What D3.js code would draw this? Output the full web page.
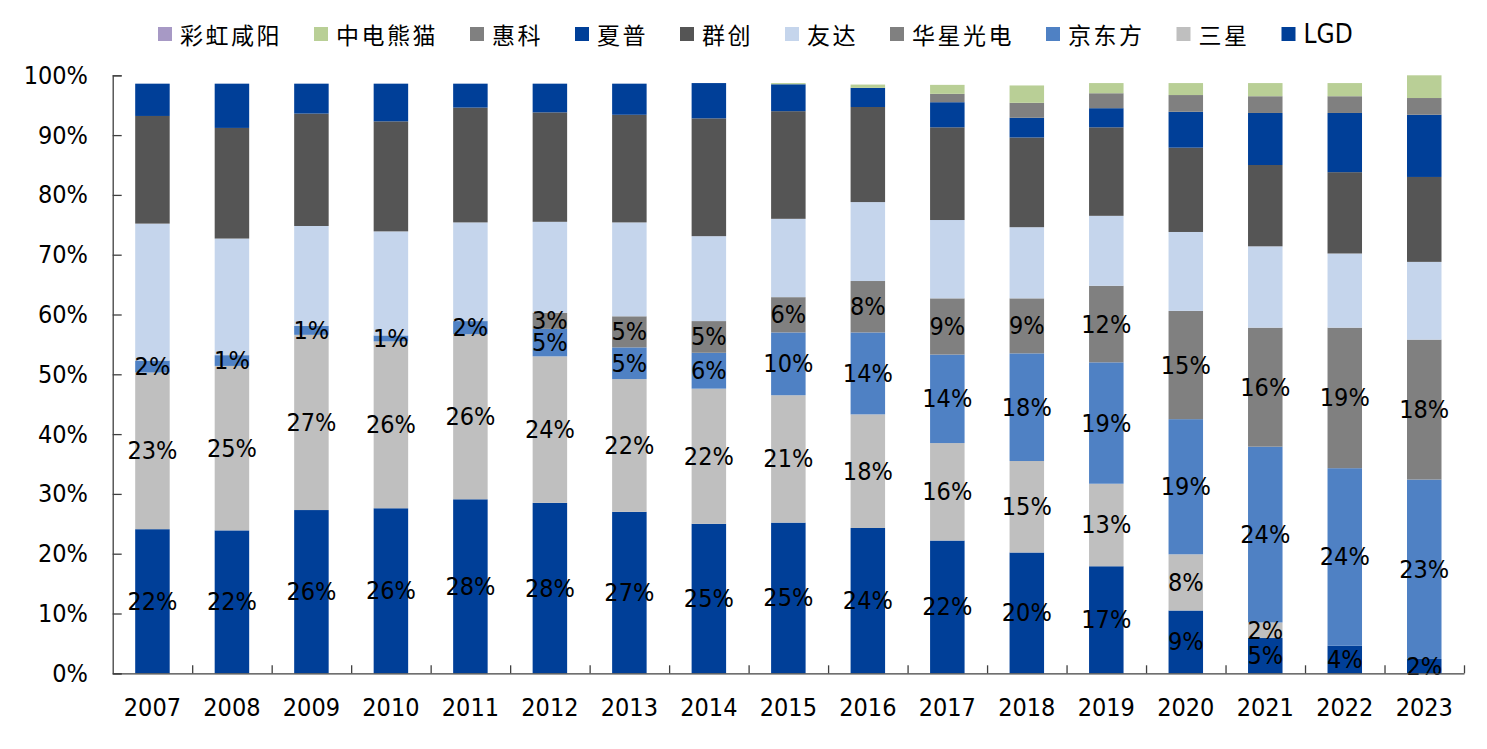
<!DOCTYPE html>
<html>
<head>
<meta charset="utf-8">
<script src="https://cdn.jsdelivr.net/npm/d3@7"></script>
<style>
  html, body { margin: 0; padding: 0; background: #fff; }
  svg { display: block; }
  .num { font-family: "DejaVu Sans Condensed", "DejaVu Sans", sans-serif; font-stretch: condensed; }
  .cjk { font-family: "Noto Sans CJK SC", sans-serif; }
</style>
</head>
<body>
<svg id="chart" width="1487" height="749"></svg>
<script>
// ---- Data (percent shares) ----
const years = ["2007","2008","2009","2010","2011","2012","2013","2014","2015","2016","2017","2018","2019","2020","2021","2022","2023"];

// stack order, bottom to top
const seriesNames = ["LGD","三星","京东方","华星光电","友达","群创","夏普","惠科","中电熊猫","彩虹咸阳"];

const LGD      = [24.1,23.9,27.3,27.6,29.1,28.5,27.0,25.0,25.2,24.3,22.2,20.2,17.9,10.5,5.9,4.6,2.4];
const samsung  = [26.2,27.5,29.3,27.9,27.6,24.5,22.2,22.6,21.3,19.0,16.3,15.3,13.8,9.4,2.6,0,0];
const BOE      = [2.0,1.8,1.5,1.0,2.2,4.6,5.3,6.0,10.5,13.7,14.8,18.0,20.3,22.6,29.4,29.7,30.0];
const CSOT     = [0,0,0,0,0,2.7,5.2,5.3,5.9,8.6,9.4,9.2,12.8,18.1,19.9,23.5,23.4];
const AUO      = [22.9,19.5,16.7,17.4,16.5,15.2,15.7,14.2,13.1,13.2,13.1,11.9,11.7,13.2,13.6,12.4,13.0];
const innolux  = [18.0,18.5,18.8,18.4,19.2,18.3,18.0,19.7,18.0,15.9,15.5,15.0,14.8,14.1,13.6,13.6,14.2];
const sharp    = [5.4,7.4,5.0,6.3,4.0,4.8,5.2,5.9,4.5,3.2,4.2,3.3,3.2,6.0,8.7,9.9,10.4];
const HKC      = [0,0,0,0,0,0,0,0,0,0,1.4,2.5,2.5,2.8,2.8,2.8,2.8];
const panda    = [0,0,0,0,0,0,0,0,0.2,0.55,1.5,2.9,1.7,2.0,2.2,2.2,3.8];
const irico    = [0,0,0,0,0,0,0,0,0,0,0,0,0,0,0,0,0];

// printed data labels (percent), null = no label
const labelLGD     = [22,22,26,26,28,28,27,25,25,24,22,20,17,9,5,4,2];
const labelSamsung = [23,25,27,26,26,24,22,22,21,18,16,15,13,8,2,null,null];
const labelBOE     = [2,1,1,1,2,5,5,6,10,14,14,18,19,19,24,24,23];
const labelCSOT    = [null,null,null,null,null,3,5,5,6,8,9,9,12,15,16,19,18];

const yTicks = [0,10,20,30,40,50,60,70,80,90,100];

const seriesValues = [LGD, samsung, BOE, CSOT, AUO, innolux, sharp, HKC, panda, irico];
const seriesLabels = [labelLGD, labelSamsung, labelBOE, labelCSOT, null, null, null, null, null, null];
const colors = ["#003F98","#BFBFBF","#4F81C4","#808080","#C5D5EC","#555555","#003F98","#808080","#B9CF96","#A799C5"];

// ---- Build table ----
const table = years.map((y, i) => {
  const row = { year: y };
  seriesNames.forEach((s, k) => row[s] = seriesValues[k][i]);
  return row;
});
const stacked = d3.stack().keys(seriesNames)(table);

// ---- Layout ----
const svg = d3.select("#chart");
const x0 = 112.7, x1 = 1464, yBottom = 673.3, yTop = 75.3;

const x = d3.scaleBand().domain(years).range([x0, x1]).paddingInner(0.566).paddingOuter(0.283);
const y = d3.scaleLinear().domain([0, 100]).range([yBottom, yTop]);

// bars
const g = svg.append("g");
stacked.forEach((layer, k) => {
  g.append("g").attr("fill", colors[k])
    .selectAll("rect").data(layer).join("rect")
    .attr("x", d => x(d.data.year))
    .attr("width", x.bandwidth())
    .attr("y", d => y(d[1]))
    .attr("height", d => Math.max(0, y(d[0]) - y(d[1])));
});

// data labels
stacked.forEach((layer, k) => {
  const labs = seriesLabels[k];
  if (!labs) return;
  svg.append("g").attr("class", "num")
    .selectAll("text").data(layer.map((d, i) => ({ d, lab: labs[i] })).filter(o => o.lab !== null))
    .join("text")
    .attr("x", o => x(o.d.data.year) + x.bandwidth() / 2)
    .attr("y", o => y((o.d[0] + o.d[1]) / 2))
    .attr("text-anchor", "middle")
    .attr("dominant-baseline", "central")
    .attr("font-size", 25)
    .attr("fill", "#000")
    .text(o => o.lab + "%");
});

// y axis
const yAxis = d3.axisRight(y).tickValues(yTicks).tickSize(9).tickFormat("");
const ya = svg.append("g").attr("transform", `translate(${x0},0)`).call(yAxis);
ya.select(".domain").attr("stroke", "#404040").attr("stroke-width", 1.3);
ya.selectAll(".tick line").attr("stroke", "#404040").attr("stroke-width", 1.3);
svg.append("g").attr("class", "num")
  .selectAll("text").data(yTicks).join("text")
  .attr("x", 88)
  .attr("y", d => y(d))
  .attr("text-anchor", "end")
  .attr("dominant-baseline", "central")
  .attr("font-size", 25)
  .attr("fill", "#000")
  .text(d => d + "%");

// x axis: line with inward ticks at category boundaries
const xLine = d3.scaleLinear().domain([0, years.length]).range([x0, x1]);
const xAxis = d3.axisTop(xLine).tickValues(d3.range(1, years.length + 1)).tickSize(8).tickFormat("").tickSizeOuter(0);
const xa = svg.append("g").attr("transform", `translate(0,${yBottom})`).call(xAxis);
xa.select(".domain").attr("stroke", "#404040").attr("stroke-width", 1.3);
xa.selectAll(".tick line").attr("stroke", "#404040").attr("stroke-width", 1.3);
svg.append("g").attr("class", "num")
  .selectAll("text").data(years).join("text")
  .attr("x", d => x(d) + x.bandwidth() / 2)
  .attr("y", 707)
  .attr("text-anchor", "middle")
  .attr("dominant-baseline", "central")
  .attr("font-size", 25)
  .attr("fill", "#000")
  .text(d => d);

// legend (reverse stack order)
const legendNames = seriesNames.slice().reverse();
const legendColors = colors.slice().reverse();
let lx = 158;
const lg = svg.append("g");
legendNames.forEach((name, i) => {
  lg.append("rect").attr("x", lx).attr("y", 27).attr("width", 14).attr("height", 14).attr("fill", legendColors[i]);
  const isLatin = /^[A-Za-z]+$/.test(name);
  const t = lg.append("text")
    .attr("x", lx + 22)
    .attr("y", 34)
    .attr("dominant-baseline", "central")
    .attr("fill", "#000")
    .attr("class", isLatin ? "num" : "cjk")
    .attr("font-size", isLatin ? 26 : 23)
    .attr("letter-spacing", isLatin ? 0 : 2.5)
    .text(name);
  const w = t.node().getComputedTextLength();
  lx += 22 + w + (isLatin ? 35 : 32);
});
</script>
</body>
</html>
